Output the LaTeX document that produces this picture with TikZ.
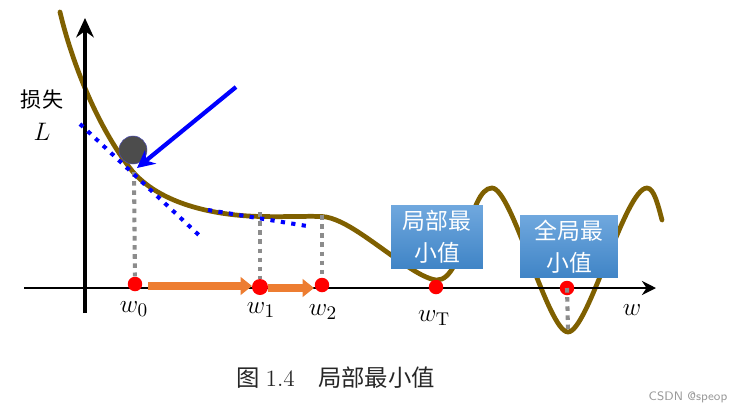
\documentclass[tikz,border=0pt]{standalone}
\usepackage{fontspec}
\newfontfamily\cjk{Noto Sans CJK SC}
\usetikzlibrary{arrows.meta,positioning}
\definecolor{curvebrown}{HTML}{7F6000}
\definecolor{boxtop}{HTML}{70A8DE}
\definecolor{boxbottom}{HTML}{3F84C6}
\definecolor{arrorange}{HTML}{ED7D31}

\begin{document}
\begin{tikzpicture}[
  x=0.02cm,
  y=-0.02cm,
  font=\cjk,
  axis/.style={line width=2.3pt, black},
  curve/.style={line width=2.7pt, curvebrown, line cap=round},
  tangent/.style={line width=2.3pt, blue, dash pattern=on 2.4pt off 3.6pt},
  drop/.style={line width=2.3pt, gray!90, dash pattern=on 2.6pt off 2.6pt},
  dot/.style={circle, fill=red, inner sep=0pt, minimum size=0.29cm},
  step arr/.style={-{Triangle[length=6.5pt,width=10pt]}, line width=4.6pt, arrorange},
  note/.style={top color=boxtop, bottom color=boxbottom, text=white, align=center, inner sep=0pt, font=\cjk\fontsize{13}{18}\selectfont},
  lab/.style={font=\fontsize{15}{17}\selectfont}
]
\useasboundingbox (0,0) rectangle (745,410);

% Loss curve
\draw[curve] (60,12) .. controls (70,55) and (95,125) .. (133,172)
  .. controls (165,208) and (225,216) .. (262,216.5)
  .. controls (285,217) and (305,216) .. (322,216.5)
  .. controls (345,218) and (375,245) .. (410,268)
  .. controls (422,276) and (432,280) .. (437,280)
  .. controls (465,280) and (468,188) .. (492,188)
  .. controls (512,188) and (548,332) .. (568,332)
  .. controls (588,332) and (625,188) .. (647,188)
  .. controls (654,188) and (658,205) .. (662,220);

% Axes
\coordinate (xstart) at (24,288);
\coordinate (xend) at (656,288);
\coordinate (ystart) at (85,313);
\coordinate (yend) at (85,18);
\draw[axis, -{Stealth[length=11pt,width=10pt]}] (ystart) -- (yend);
\draw[axis, line width=1.7pt, -{Stealth[length=8pt,width=8pt]}] (xstart) -- (xend);

% Dots on the axis
\node[dot] (w0) at (135,284) {};
\node[dot, minimum size=0.32cm] (w1) at (260,287) {};
\node[dot] (w2) at (322,285) {};
\node[dot] (wT) at (436,287) {};
\node[dot] (wG) at (567,288) {};

% Points on the curve
\coordinate (p0) at (134,172);
\coordinate (p1) at (260,212);
\coordinate (p2) at (322,215);
\coordinate (pG) at (568,329);

% Drop lines
\draw[drop] (p0) -- (w0);
\draw[drop] (p1) -- (w1);
\draw[drop] (p2) -- (w2);
\draw[drop] (wG.center) -- (pG);

% Ball and tangents
\node[circle, fill=black!70, draw=blue!40!gray, line width=0.3pt, inner sep=0pt, minimum size=0.56cm] (ball) at (133,150) {};
\coordinate (t0a) at (80,124);
\coordinate (t0b) at (202,238);
\coordinate (t1a) at (208,210);
\coordinate (t1b) at (307,226);
\draw[tangent] (t0a) -- (t0b);
\draw[tangent] (t1a) -- (t1b);
\coordinate (push) at (236,87);
\coordinate (hit) at (137,168);
\draw[line width=2.4pt, blue, -{Stealth[length=10pt,width=10pt]}] (push) -- (hit);

% Step arrows
\coordinate (s0a) at (148,286);
\coordinate (s0b) at (252,286);
\coordinate (s1a) at (268,288);
\coordinate (s1b) at (314,288);
\draw[step arr] (s0a) -- (s0b);
\draw[step arr] (s1a) -- (s1b);

% Notes
\node[note, minimum width=1.84cm, minimum height=1.28cm] (local) at (437,237) {局部最\\小值};
\node[note, minimum width=1.96cm, minimum height=1.26cm] (global) at (569,246.5) {全局最\\小值};

% Labels
\node[font=\cjk\fontsize{12}{14}\selectfont] (loss) at (42,100) {损失};
\node[lab] (lossL) at (42,132) {$L$};
\node[lab] (w0lab) at (134,309) {$w_0$};
\node[lab] (w1lab) at (261,310) {$w_1$};
\node[lab] (w2lab) at (323,312) {$w_2$};
\node[lab] (wTlab) at (434,318) {$w_{\mathrm{T}}$};
\node[lab] (wlab) at (632,310) {$w$};
\node[font=\cjk\fontsize{13.3}{15}\selectfont, black!85] (caption) at (336,378) {图 {\rmfamily 1.4}\quad 局部最小值};
\node[font=\fontsize{7}{9}\selectfont\sffamily, black!40] (mark) at (688,397) {CSDN @speop};
\end{tikzpicture}
\end{document}
